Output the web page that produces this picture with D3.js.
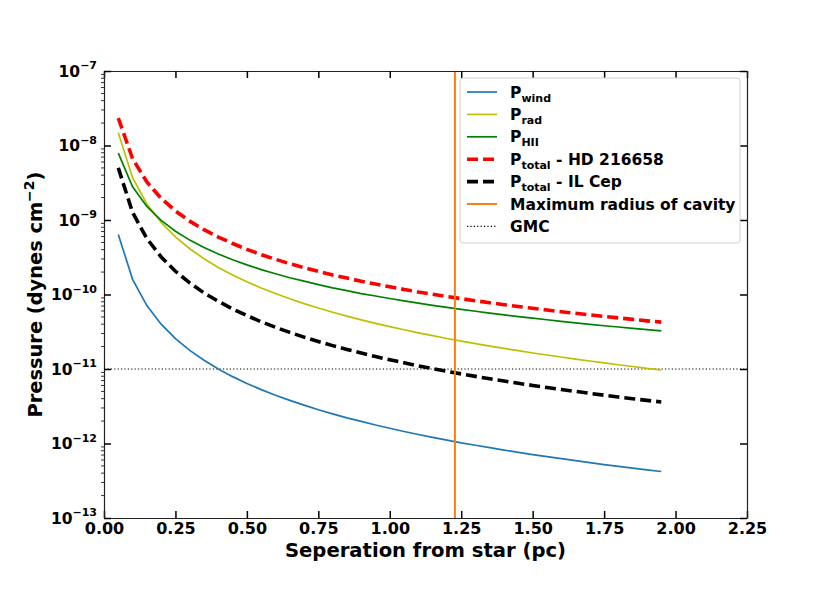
<!DOCTYPE html>
<html>
<head>
<meta charset="utf-8">
<script src="https://cdn.jsdelivr.net/npm/d3@7/dist/d3.min.js"></script>
<style>
  body { margin: 0; background: #fff; }
  svg { display: block; font-family: "DejaVu Sans", sans-serif; font-weight: bold; }
</style>
</head>
<body>
<svg id="chart" width="830" height="593"></svg>
<script>
// separation from star (pc)
const sep = [0.05,0.10,0.15,0.20,0.25,0.30,0.35,0.40,0.45,0.50,0.55,0.60,0.65,0.70,0.75,0.80,0.85,0.90,0.95,1.00,
             1.05,1.10,1.15,1.20,1.25,1.30,1.35,1.40,1.45,1.50,1.55,1.60,1.65,1.70,1.75,1.80,1.85,1.90,1.95];

// pressures, dynes cm^-2
const pWind = [6.4e-10,1.6e-10,7.11e-11,4.0e-11,2.56e-11,1.78e-11,1.31e-11,1.0e-11,7.9e-12,6.4e-12,5.29e-12,4.44e-12,3.79e-12,3.27e-12,2.84e-12,2.5e-12,2.21e-12,1.98e-12,1.77e-12,1.6e-12,
               1.45e-12,1.32e-12,1.21e-12,1.11e-12,1.02e-12,9.47e-13,8.78e-13,8.16e-13,7.61e-13,7.11e-13,6.66e-13,6.25e-13,5.88e-13,5.54e-13,5.22e-13,4.94e-13,4.67e-13,4.43e-13,4.21e-13];
const pRad = [1.48e-8,3.7e-9,1.644e-9,9.25e-10,5.92e-10,4.11e-10,3.02e-10,2.31e-10,1.83e-10,1.48e-10,1.22e-10,1.03e-10,8.76e-11,7.55e-11,6.58e-11,5.78e-11,5.12e-11,4.57e-11,4.10e-11,3.7e-11,
              3.36e-11,3.06e-11,2.80e-11,2.57e-11,2.37e-11,2.19e-11,2.03e-11,1.89e-11,1.76e-11,1.64e-11,1.54e-11,1.45e-11,1.36e-11,1.28e-11,1.21e-11,1.14e-11,1.08e-11,1.02e-11,9.73e-12];
const pHII = [7.90e-9,2.79e-9,1.52e-9,9.87e-10,7.06e-10,5.37e-10,4.26e-10,3.49e-10,2.93e-10,2.50e-10,2.16e-10,1.90e-10,1.68e-10,1.51e-10,1.36e-10,1.23e-10,1.13e-10,1.03e-10,9.54e-11,8.83e-11,
              8.21e-11,7.65e-11,7.16e-11,6.72e-11,6.32e-11,5.96e-11,5.63e-11,5.33e-11,5.06e-11,4.81e-11,4.58e-11,4.36e-11,4.17e-11,3.98e-11,3.81e-11,3.66e-11,3.51e-11,3.37e-11,3.24e-11];
const pTotalHD = [2.334e-8,6.65e-9,3.235e-9,1.952e-9,1.324e-9,9.66e-10,7.41e-10,5.90e-10,4.84e-10,4.04e-10,3.43e-10,2.97e-10,2.59e-10,2.30e-10,2.05e-10,1.83e-10,1.66e-10,1.51e-10,1.38e-10,1.27e-10,
                  1.17e-10,1.08e-10,1.01e-10,9.40e-11,8.79e-11,8.24e-11,7.75e-11,7.30e-11,6.90e-11,6.52e-11,6.19e-11,5.87e-11,5.59e-11,5.32e-11,5.07e-11,4.85e-11,4.64e-11,4.43e-11,4.26e-11];
const pTotalIL = [5.01e-9,1.262e-9,5.64e-10,3.19e-10,2.05e-10,1.43e-10,1.05e-10,8.09e-11,6.41e-11,5.21e-11,4.31e-11,3.63e-11,3.10e-11,2.68e-11,2.34e-11,2.06e-11,1.83e-11,1.64e-11,1.47e-11,1.33e-11,
                  1.21e-11,1.10e-11,1.01e-11,9.31e-12,8.59e-12,7.96e-12,7.39e-12,6.89e-12,6.43e-12,6.02e-12,5.64e-12,5.30e-12,5.00e-12,4.71e-12,4.45e-12,4.21e-12,3.99e-12,3.79e-12,3.61e-12];

const maxRadius = 1.228;   // pc
const gmcPressure = 1e-11;

const xTicks = [0, 0.25, 0.5, 0.75, 1.0, 1.25, 1.5, 1.75, 2.0, 2.25];
const yExps = [-13, -12, -11, -10, -9, -8, -7];

// Налаштування
const svg = d3.select("#chart");
const margin = { left: 104, right: 83, top: 71, bottom: 75 };
const W = 830, H = 593;
const pw = W - margin.left - margin.right;
const ph = H - margin.top - margin.bottom;

const x = d3.scaleLinear().domain([0, 2.25]).range([0, pw]);
const y = d3.scaleLog().domain([1e-13, 1e-7]).range([ph, 0]);

const g = svg.append("g").attr("transform", `translate(${margin.left},${margin.top})`);

svg.append("defs").append("clipPath").attr("id", "clip")
  .append("rect").attr("width", pw).attr("height", ph);
const plot = g.append("g").attr("clip-path", "url(#clip)");

const line = vals => d3.line().x((d, i) => x(sep[i])).y(d => y(d))(vals);

const series = [
  { label: "wind", rest: "", vals: pWind, color: "#1f77b4", w: 1.7, dash: null },
  { label: "rad", rest: "", vals: pRad, color: "#bfbf00", w: 1.7, dash: null },
  { label: "HII", rest: "", vals: pHII, color: "#008000", w: 1.7, dash: null },
  { label: "total", rest: " - HD 216658", vals: pTotalHD, color: "#ff0000", w: 3.6, dash: "11,5" },
  { label: "total", rest: " - IL Cep", vals: pTotalIL, color: "#000000", w: 3.6, dash: "11,5" }
];

// GMC level
plot.append("line")
  .attr("x1", 0).attr("x2", pw)
  .attr("y1", y(gmcPressure)).attr("y2", y(gmcPressure))
  .attr("stroke", "#000").attr("stroke-width", 1.2).attr("stroke-dasharray", "1.2,2.2");

series.forEach(s => {
  plot.append("path")
    .attr("d", line(s.vals))
    .attr("fill", "none")
    .attr("stroke", s.color)
    .attr("stroke-width", s.w)
    .attr("stroke-dasharray", s.dash);
});

// max radius of cavity
plot.append("line")
  .attr("x1", x(maxRadius)).attr("x2", x(maxRadius))
  .attr("y1", 0).attr("y2", ph)
  .attr("stroke", "#ff7f0e").attr("stroke-width", 2);

// Осі
const axisColor = "#222";
const axBottom = g.append("g").attr("transform", `translate(0,${ph})`)
  .call(d3.axisBottom(x).tickValues(xTicks).tickFormat(d3.format(".2f")).tickSize(-7).tickPadding(5).tickSizeOuter(0));
const axTop = g.append("g")
  .call(d3.axisTop(x).tickValues(xTicks).tickFormat("").tickSize(-7).tickSizeOuter(0));
const majors = yExps.map(e => Math.pow(10, e));
const axLeft = g.append("g")
  .call(d3.axisLeft(y).tickValues(majors).tickFormat("").tickSize(-7).tickSizeOuter(0));
const axRight = g.append("g").attr("transform", `translate(${pw},0)`)
  .call(d3.axisRight(y).tickValues(majors).tickFormat("").tickSize(-7).tickSizeOuter(0));

[axBottom, axTop, axLeft, axRight].forEach(a => {
  a.select(".domain").attr("stroke", axisColor).attr("stroke-width", 1.2);
  a.selectAll(".tick line").attr("stroke", "#000").attr("stroke-width", 1.5);
});
axBottom.selectAll("text").attr("font-size", 16).attr("font-family", "DejaVu Sans").attr("font-weight", "bold").attr("fill", "#000");

// minor ticks on the left, outward
const minors = [];
yExps.slice(0, -1).forEach(e => { for (let k = 2; k <= 9; k++) minors.push(k * Math.pow(10, e)); });
g.append("g").selectAll("line").data(minors).enter().append("line")
  .attr("x1", -3).attr("x2", 0)
  .attr("y1", d => y(d)).attr("y2", d => y(d))
  .attr("stroke", "#000").attr("stroke-width", 0.8);

// y tick labels with superscript
const yl = g.append("g").selectAll("text").data(yExps).enter().append("text")
  .attr("x", -7).attr("y", d => y(Math.pow(10, d)) + 5.5)
  .attr("text-anchor", "end").attr("font-size", 15.5).attr("fill", "#000");
yl.append("tspan").text("10");
yl.append("tspan").attr("dy", -7.5).attr("font-size", 11).text(d => "\u2212" + Math.abs(d));

// Підписи осей
svg.append("text")
  .attr("x", margin.left + pw / 2).attr("y", 557)
  .attr("text-anchor", "middle").attr("font-size", 19.6).attr("fill", "#000")
  .text("Seperation from star (pc)");

const ylab = svg.append("text")
  .attr("transform", `translate(42,${margin.top + ph / 2}) rotate(-90)`)
  .attr("text-anchor", "middle").attr("font-size", 19.4).attr("fill", "#000");
ylab.append("tspan").text("Pressure (dynes cm");
ylab.append("tspan").attr("dy", -8).attr("font-size", 14).text("\u22122");
ylab.append("tspan").attr("dy", 8).text(")");

// Легенда
const legendItems = series.map(s => ({ sub: s.label, rest: s.rest, color: s.color, w: s.w, dash: s.dash }))
  .concat([
    { sub: null, rest: "Maximum radius of cavity", color: "#ff7f0e", w: 2, dash: null },
    { sub: null, rest: "GMC", color: "#000", w: 1.2, dash: "1.2,2.2" }
  ]);

const lg = svg.append("g").attr("transform", "translate(460,78)");
lg.append("rect")
  .attr("width", 280).attr("height", 165).attr("rx", 3)
  .attr("fill", "#fff").attr("fill-opacity", 0.8)
  .attr("stroke", "#d0d0d0").attr("stroke-width", 1);

const row = lg.selectAll("g.row").data(legendItems).enter().append("g")
  .attr("class", "row")
  .attr("transform", (d, i) => `translate(0,${14 + i * 22.4})`);
row.append("line")
  .attr("x1", 7).attr("x2", 37)
  .attr("stroke", d => d.color)
  .attr("stroke-width", d => d.w)
  .attr("stroke-dasharray", d => d.dash);
const lt = row.append("text").attr("x", 50).attr("y", 5.5).attr("font-size", 15.5).attr("fill", "#000");
lt.each(function(d) {
  const t = d3.select(this);
  if (d.sub) {
    t.append("tspan").text("P");
    t.append("tspan").attr("dy", 4).attr("font-size", 11).text(d.sub);
    t.append("tspan").attr("dy", -4).text(d.rest);
  } else {
    t.append("tspan").text(d.rest);
  }
});
</script>
</body>
</html>
